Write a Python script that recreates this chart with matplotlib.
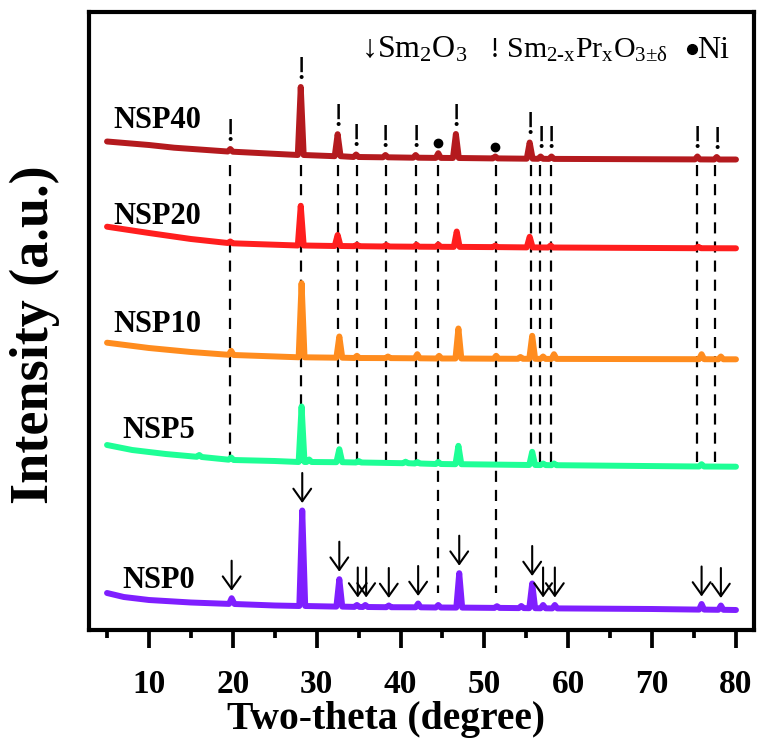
import matplotlib
matplotlib.use('Agg')
import matplotlib.pyplot as plt
import numpy as np

plt.rcParams['font.family'] = ['Liberation Serif', 'DejaVu Serif']
plt.rcParams['mathtext.fontset'] = 'custom'
plt.rcParams['mathtext.rm'] = 'Liberation Serif'
plt.rcParams['mathtext.it'] = 'Liberation Serif:italic'
plt.rcParams['mathtext.bf'] = 'Liberation Serif:bold'

# XRD patterns: (two-theta, intensity a.u. incl. stacking offset)
nsp0 = [(5, 37), (7, 33), (10, 30), (15, 27.5), (19.55, 26.1), (19.86, 31.8), (20.2, 26),
        (25, 24.5), (27.93, 24), (28.28, 119.5), (28.63, 24), (32.35, 23.4), (32.7, 50.8),
        (33.05, 23.4), (34.5, 23.1), (34.8, 25), (35.1, 23.1), (35.5, 23), (35.8, 25),
        (36.1, 23), (38.3, 22.8), (38.6, 24.5), (38.9, 22.8), (41.8, 22.7), (42.1, 26.5),
        (42.4, 22.7), (44.2, 22.5), (44.5, 25), (44.8, 22.5), (46.65, 22.4), (47.0, 56.8),
        (47.35, 22.4), (51.2, 22.1), (51.5, 23.8), (51.8, 22.1), (54.1, 21.9), (54.4, 24),
        (54.7, 21.9), (55.35, 21.8), (55.7, 46.5), (56.05, 21.8), (56.7, 21.7), (57.0, 25),
        (57.3, 21.7), (58.1, 21.6), (58.4, 25), (58.7, 21.6), (70, 21), (75.6, 20.4),
        (75.9, 26), (76.2, 20.4), (77.9, 20.2), (78.2, 24.5), (78.5, 20.2), (80, 20)]

nsp5 = [(5, 185), (8, 180), (12, 176), (15.7, 173.2), (16.0, 175), (16.3, 173), (19.5, 170.3),
        (19.8, 172.5), (20.1, 170), (25, 169), (27.85, 168), (28.2, 223.5), (28.55, 168),
        (28.8, 168), (29.1, 170.5), (29.4, 168), (32.35, 167.8), (32.7, 180.8), (33.05, 167.8),
        (34.7, 167.5), (35.0, 169), (35.3, 167.5), (40.3, 166.8), (40.6, 168.3), (40.9, 166.8),
        (41.7, 166.5), (42.0, 168), (42.3, 166.5), (44.2, 166), (44.5, 168), (44.8, 166),
        (46.55, 165.8), (46.9, 184.2), (47.25, 165.8), (55.35, 165), (55.7, 178.2),
        (56.05, 165), (56.7, 164.9), (57.0, 166.5), (57.3, 164.9), (58.0, 164.8), (58.3, 166.5),
        (58.6, 164.8), (75.6, 163.5), (75.9, 165.8), (76.2, 163.5), (80, 163.3)]

nsp10 = [(5, 287.3), (10, 282), (15, 278), (19.5, 275.2), (19.8, 279.2), (20.1, 275),
         (27.85, 272.7), (28.2, 346.8), (28.55, 272.7), (32.35, 272.3), (32.7, 293.5),
         (33.05, 272.3), (34.5, 272), (34.8, 274.2), (35.1, 272), (38.2, 271.9), (38.5, 273.5),
         (38.8, 271.9), (41.7, 271.7), (42.0, 275.8), (42.3, 271.7), (44.3, 271.5), (44.6, 274.2),
         (44.9, 271.5), (46.55, 271.5), (46.9, 301.5), (47.25, 271.5), (51.1, 271.3),
         (51.4, 274.2), (51.7, 271.3), (54.0, 271.2), (54.3, 273), (54.6, 271.2), (55.35, 271.2),
         (55.7, 294.2), (56.05, 271.2), (56.7, 271.1), (57.0, 273.5), (57.3, 271.1),
         (58.0, 271.1), (58.3, 275.8), (58.6, 271.1), (75.6, 270.8), (75.9, 275.8),
         (76.2, 270.8), (77.9, 270.7), (78.2, 273.5), (78.5, 270.7), (80, 270.7)]

nsp20 = [(5, 403.3), (10, 397), (15, 391), (19.4, 387), (19.7, 388.5), (20.0, 386.7),
         (27.75, 384.5), (28.1, 424.2), (28.45, 384.5), (32.15, 384), (32.5, 395), (32.85, 384),
         (34.5, 383.8), (34.8, 385.3), (35.1, 383.8), (38.0, 383.5), (38.3, 385), (38.6, 383.5),
         (41.6, 383.3), (41.9, 385.3), (42.2, 383.3), (44.2, 383.2), (44.5, 385.5), (44.8, 383.2),
         (46.35, 383.1), (46.7, 398.5), (47.05, 383.1), (51.0, 382.9), (51.3, 384.4),
         (51.6, 382.9), (55.05, 382.6), (55.4, 393.2), (55.75, 382.6), (57.6, 382.5),
         (57.9, 384.5), (58.2, 382.5), (75.2, 381.8), (75.5, 383.3), (75.8, 381.8), (80, 381.7)]

nsp40 = [(5, 488.5), (10, 485), (13, 482.3), (19.4, 478.5), (19.7, 481), (20.0, 478.3),
         (27.75, 475), (28.1, 543), (28.45, 475), (32.15, 473.8), (32.5, 495.8), (32.85, 473.8),
         (34.4, 473), (34.7, 475.5), (35.0, 473), (37.9, 472.7), (38.2, 475), (38.5, 472.7),
         (41.5, 472.3), (41.8, 475), (42.1, 472.3), (44.2, 472.1), (44.5, 476.8), (44.8, 472.1),
         (46.25, 472), (46.6, 496), (46.95, 472), (51.0, 471.6), (51.3, 473.5), (51.6, 471.6),
         (55.05, 471.3), (55.4, 487.5), (55.75, 471.3), (56.4, 471.2), (56.7, 473.5),
         (57.0, 471.2), (57.7, 471.1), (58.0, 473.5), (58.3, 471.1), (75.1, 470.6), (75.4, 473.5),
         (75.7, 470.6), (77.4, 470.5), (77.7, 473), (78.0, 470.5), (80, 470.5)]

samples = ['NSP0', 'NSP5', 'NSP10', 'NSP20', 'NSP40']
patterns = [nsp0, nsp5, nsp10, nsp20, nsp40]
colors = ['#7f1fff', '#1eff96', '#ff8c1e', '#ff1e1e', '#b41a1e']
label_pos = [(6.8, 49), (6.8, 199), (5.7, 306), (5.7, 413), (5.7, 510)]

sm2o3_peaks = [19.86, 28.28, 32.7, 34.9, 35.9, 38.6, 42.1, 47.0, 55.7, 57.0, 58.4, 75.9, 78.2]
spo_peaks = [19.7, 28.1, 32.5, 34.7, 38.2, 41.8, 46.6, 55.4, 56.7, 58.0, 75.4, 77.7]
ni_peaks = [44.5, 51.3]
guide_lines = [19.7, 28.1, 32.6, 34.75, 38.3, 41.85, 55.5, 56.6, 57.95, 75.3, 77.5]
ni_lines = [44.5, 51.35]

fig = plt.figure(figsize=(7.59, 7.49), dpi=100)
ax = fig.add_axes([89 / 759, 119 / 749, 665 / 759, 618 / 749])

for x in guide_lines:
    low = 160 if x == 28.1 else 168
    ax.plot([x, x], [465, low], color='black', lw=1.6, dashes=(5, 3.6), zorder=1)
for x in ni_lines:
    ax.plot([x, x], [465, 37], color='black', lw=1.6, dashes=(5, 3.6), zorder=1)

for name, pat, c, (lx, ly) in zip(samples, patterns, colors, label_pos):
    tt = np.array([p[0] for p in pat])
    inten = np.array([p[1] for p in pat])
    ax.plot(tt, inten, color=c, lw=4.3, solid_capstyle='round', solid_joinstyle='round', zorder=3)
    ax.text(lx, ly, name, fontsize=22, fontweight='bold', va='center', ha='left')


def top_near(pat, x, w=0.45):
    return max(p[1] for p in pat if abs(p[0] - x) <= w)


# arrows over NSP0
for x in sm2o3_peaks:
    tip = top_near(nsp0, x) + 7.5
    ax.annotate('', xy=(x, tip), xytext=(x, tip + 30),
                arrowprops=dict(arrowstyle='->,head_length=0.45,head_width=0.32',
                                lw=1.5, color='black', mutation_scale=20,
                                shrinkA=0, shrinkB=0))

# markers over NSP40
for x in spo_peaks:
    ax.text(x, top_near(nsp40, x) + 8, '!', fontsize=24, ha='center', va='baseline')
for x in ni_peaks:
    ax.plot(x, top_near(nsp40, x) + 10, 'o', color='black', ms=6)

# phase key at the top
ax.text(35.3, 572, r'↓Sm$_\mathrm{2}$O$_\mathrm{3}$', fontsize=23, ha='left', va='baseline')
ax.text(50.5, 572, r'! Sm$_{\mathrm{2}\text{-}\mathrm{x}}$Pr$_\mathrm{x}$O$_{\mathrm{3±δ}}$',
        fontsize=21.5, ha='left', va='baseline')
ax.plot(74.7, 581, 'o', color='black', ms=7)
ax.text(75.4, 572, 'Ni', fontsize=23, ha='left', va='baseline')

ax.set_xlim(2.85, 82.15)
ax.set_ylim(0, 618)
ax.set_xticks(np.arange(10, 81, 10))
ax.set_xticks(np.arange(5, 80, 10), minor=True)
ax.set_yticks([])
ax.tick_params(axis='x', which='major', length=13, width=2.7, direction='out', pad=15, labelsize=24)
ax.tick_params(axis='x', which='minor', length=6, width=2.7, direction='out')
for lab in ax.get_xticklabels():
    lab.set_fontweight('bold')
for s in ax.spines.values():
    s.set_linewidth(3)

fig.text(386 / 759, 1 - 720 / 749, 'Two-theta (degree)', fontsize=28.5, fontweight='bold',
         ha='center', va='center')
fig.text(34.6 / 759, 1 - 335 / 749, 'Intensity (a.u.)', fontsize=39, fontweight='bold',
         rotation=90, ha='center', va='center')

fig.savefig('out.png', dpi=100)
